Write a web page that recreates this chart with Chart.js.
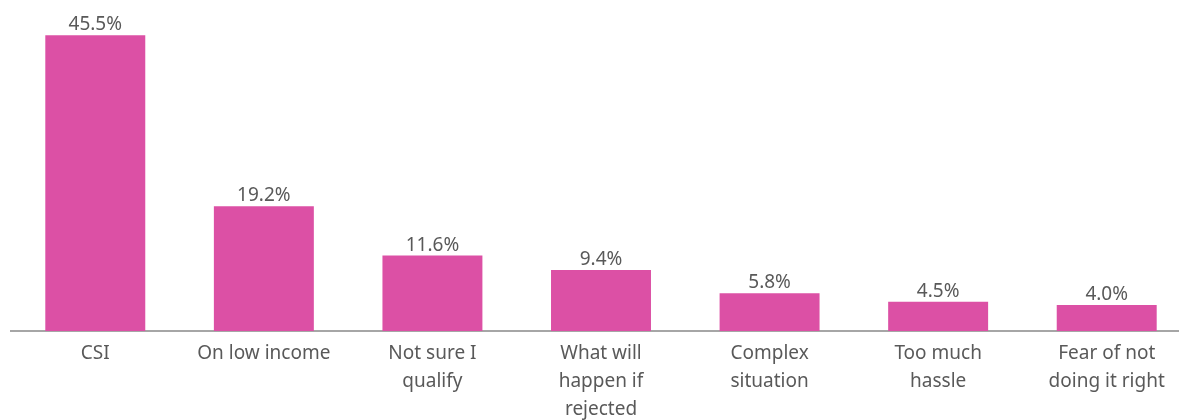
<!DOCTYPE html>
<html>
<head>
<meta charset="utf-8">
<script src="https://cdn.jsdelivr.net/npm/chart.js@4"></script>
<style>
    html, body { margin: 0; padding: 0; background: #fff; overflow: hidden; }
    #wrap { position: relative; width: 1192px; height: 420px; }
</style>
</head>
<body>
<div id="wrap"><canvas id="reasons-chart"></canvas></div>
<script>
// Reasons given, share of respondents (%)
const categories = [
    ['CSI'],
    ['On low income'],
    ['Not sure I', 'qualify'],
    ['What will', 'happen if', 'rejected'],
    ['Complex', 'situation'],
    ['Too much', 'hassle'],
    ['Fear of not', 'doing it right']
];
const shares = [45.5, 19.2, 11.6, 9.4, 5.8, 4.5, 4.0];

const FONT = '"Noto Sans", "DejaVu Sans", sans-serif';
const TEXT_COLOR = '#595959';

// Draws the percentage above each bar
const valueLabels = {
    id: 'valueLabels',
    afterDatasetsDraw(chart) {
        const ctx = chart.ctx;
        const meta = chart.getDatasetMeta(0);
        ctx.save();
        ctx.font = '19px ' + FONT;
        ctx.fillStyle = TEXT_COLOR;
        ctx.textAlign = 'center';
        ctx.textBaseline = 'alphabetic';
        meta.data.forEach((bar, i) => {
            ctx.fillText(shares[i].toFixed(1) + '%', bar.x, bar.y - 5);
        });
        ctx.restore();
    }
};

new Chart(document.getElementById('reasons-chart'), {
    type: 'bar',
    data: {
        labels: categories,
        datasets: [{
            data: shares,
            backgroundColor: '#DC50A5',
            borderWidth: 0,
            barPercentage: 0.593,
            categoryPercentage: 1
        }]
    },
    options: {
        responsive: true,
        maintainAspectRatio: false,
        animation: false,
        layout: { padding: { left: 11, right: 1, top: 6, bottom: 0 } },
        plugins: {
            legend: { display: false },
            tooltip: { enabled: false }
        },
        scales: {
            x: {
                grid: { display: false, drawTicks: false },
                border: { display: true, color: '#A6A6A6', width: 2 },
                ticks: {
                    color: TEXT_COLOR,
                    font: { family: FONT, size: 19, lineHeight: 1.47 },
                    padding: 9,
                    maxRotation: 0,
                    autoSkip: false
                },
                afterFit(scale) { scale.height = 89; }
            },
            y: {
                display: false,
                min: 0,
                max: 50
            }
        }
    },
    plugins: [valueLabels]
});
</script>
</body>
</html>
